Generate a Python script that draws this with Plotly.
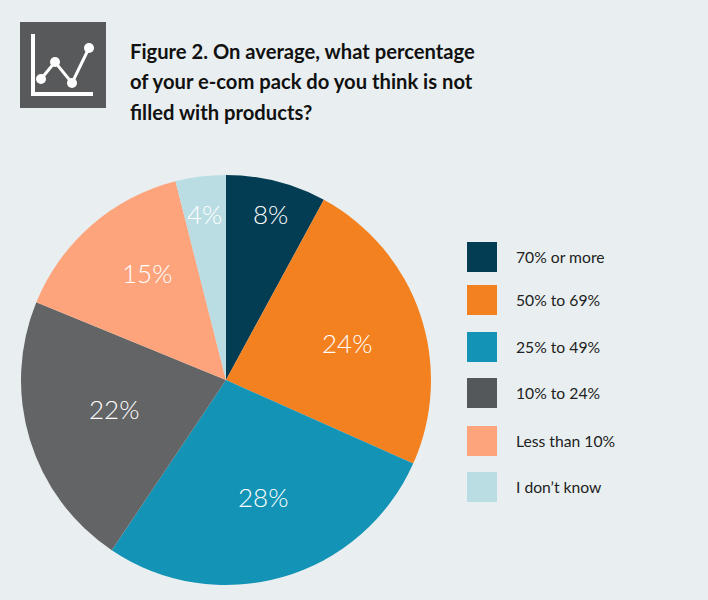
import plotly.graph_objects as go

# values, clockwise from 12 o'clock
labels = ["70% or more", "50% to 69%", "25% to 49%", "10% to 24%", "Less than 10%", "I don\u2019t know"]
values = [8, 24, 28, 22, 15, 4]
colors = ["#033d54", "#f48120", "#1393b5", "#636466", "#fda47c", "#b9dde3"]
swatch_colors = ["#033d54", "#f48120", "#1393b5", "#54585a", "#fda47c", "#b9dde3"]
bg = "#e9eff0"
font_name = "Lato"
title_lines = ["Figure 2. On average, what percentage", "of your e-com pack do you think is not", "filled with products?"]
W, H = 708, 600


def px(x):
    return x / W


def py(y):
    return 1 - y / H


fig = go.Figure(go.Pie(
    labels=labels, values=values, sort=False, direction="clockwise", rotation=0,
    marker=dict(colors=colors, line=dict(width=0)),
    textinfo="none", showlegend=False,
    domain=dict(x=[px(21), px(431)], y=[py(585), py(175)]),
))

# % labels placed by hand, the reference doesn't centre them the way plotly does
label_pos = [(270, 214), (347, 343), (263, 497), (114, 409), (147, 273), (204, 214)]
for v, (x, y) in zip(values, label_pos):
    fig.add_annotation(text=f"{v}%", xref="paper", yref="paper", x=px(x), y=py(y),
                       xanchor="center", yanchor="middle", showarrow=False,
                       font=dict(size=26, color="white", family=font_name, weight=300))

# legend swatches and names
leg_y = [257, 300, 347, 393, 441, 487]
for name, c, y in zip(labels, swatch_colors, leg_y):
    fig.add_shape(type="rect", xref="paper", yref="paper",
                  x0=px(467), x1=px(497), y0=py(y + 15), y1=py(y - 15),
                  fillcolor=c, line_width=0)
    fig.add_annotation(text=name, xref="paper", yref="paper", x=px(514), y=py(y),
                       xanchor="left", yanchor="middle", showarrow=False,
                       font=dict(size=15.7, color="#222222", family=font_name))

# title
for i, line in enumerate(title_lines):
    fig.add_annotation(text="<b>" + line + "</b>", xref="paper", yref="paper", x=px(128),
                       y=py(51 + i * 30.3), xanchor="left", yanchor="middle", showarrow=False,
                       font=dict(size=20.2, color="#111111", family=font_name))

# icon box with little line chart
fig.add_shape(type="rect", xref="paper", yref="paper", x0=px(20), x1=px(106),
              y0=py(108), y1=py(22), fillcolor="#58595b", line_width=0)
axis_path = f"M {px(33)} {py(34)} L {px(33)} {py(94)} L {px(93)} {py(94)}"
fig.add_shape(type="path", xref="paper", yref="paper", path=axis_path,
              line=dict(color="white", width=4))
icon_pts = [(41, 79), (55, 62), (72, 83), (89, 48)]
icon_path = "M " + " L ".join(f"{px(x)} {py(y)}" for x, y in icon_pts)
fig.add_shape(type="path", xref="paper", yref="paper", path=icon_path,
              line=dict(color="white", width=3))
for x, y in icon_pts:
    fig.add_shape(type="circle", xref="paper", yref="paper", x0=px(x - 5), x1=px(x + 5),
                  y0=py(y + 5), y1=py(y - 5), fillcolor="white", line_width=0)

fig.update_layout(
    width=W, height=H, margin=dict(l=0, r=0, t=0, b=0),
    paper_bgcolor=bg,
)
# page has a default 8px body margin, drop it so the figure fills the window
fig.write_html("out.html", config={"displayModeBar": False},
               post_script="document.body.style.margin='0';")
